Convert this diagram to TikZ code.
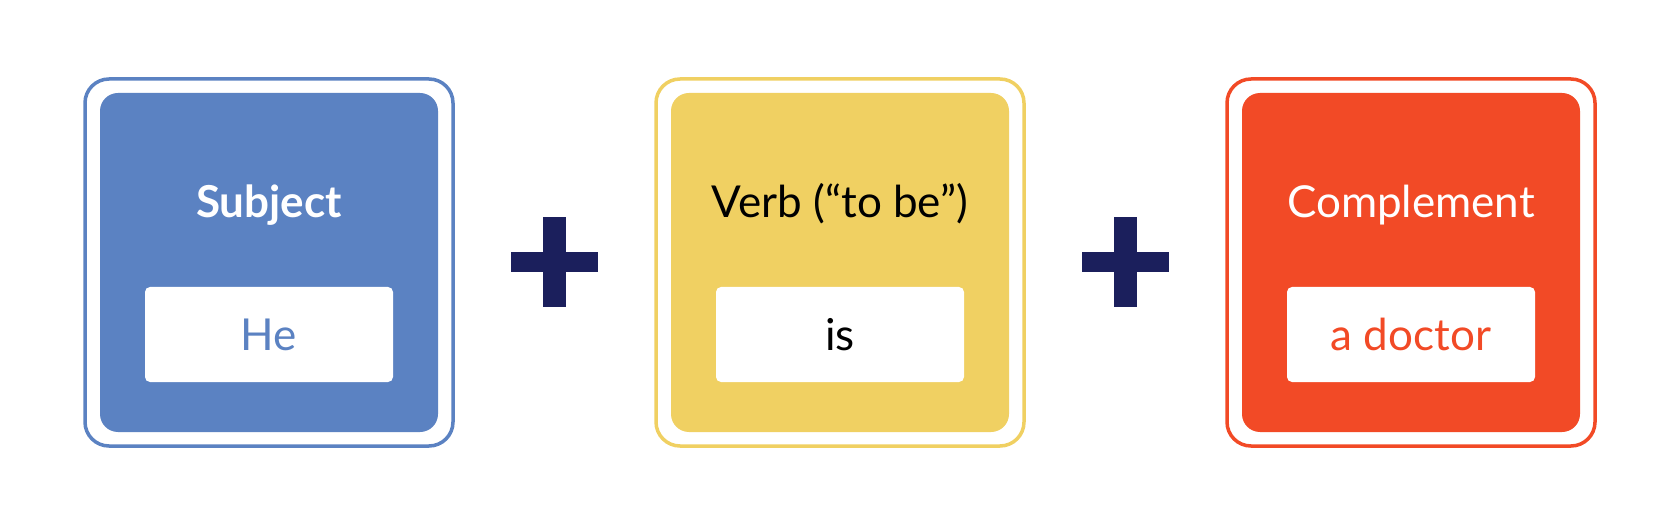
\documentclass[tikz,border=0pt]{standalone}
\usepackage{fontspec}
\setmainfont{Lato}
\definecolor{cblue}{HTML}{5B82C2}
\definecolor{cyellow}{HTML}{F0D062}
\definecolor{cred}{HTML}{F24A26}
\definecolor{cnavy}{HTML}{1B1F5C}
\begin{document}
\begin{tikzpicture}[x=1pt,y=-1pt,
  outerbox/.style={draw=#1, line width=3.5pt, rounded corners=24pt, minimum width=368pt, minimum height=367pt, inner sep=0pt, fill=white},
  innerbox/.style={fill=#1, rounded corners=18pt, minimum width=338pt, minimum height=339pt, inner sep=0pt},
  valbox/.style={fill=white, rounded corners=5pt, minimum width=248pt, minimum height=95pt, inner sep=0pt},
  title/.style={anchor=base, inner sep=0pt, font=\fontsize{44}{50}\selectfont, text=#1},
  value/.style={anchor=base, inner sep=0pt, font=\fontsize{44}{50}\selectfont, text=#1},
  plusbar/.style={fill=cnavy}
]
\useasboundingbox (0,0) rectangle (1680,526);
% Box 1
\node[outerbox=cblue] (o1) at (269,262.5) {};
\node[innerbox=cblue] (i1) at (269,262.5) {};
\node[valbox] (v1) at (269,334.5) {};
\node[title=white, font=\fontsize{44}{50}\selectfont\bfseries] (t1) at (269,218) {Subject};
\node[value=cblue] (w1) at (269,350) {He};
% Box 2
\node[outerbox=cyellow] (o2) at (840,262.5) {};
\node[innerbox=cyellow] (i2) at (840,262.5) {};
\node[valbox] (v2) at (840,334.5) {};
\node[title=black] (t2) at (840,218) {Verb (“to be”)};
\node[value=black] (w2) at (840,350) {is};
% Box 3
\node[outerbox=cred] (o3) at (1411,262.5) {};
\node[innerbox=cred] (i3) at (1411,262.5) {};
\node[valbox] (v3) at (1411,334.5) {};
\node[title=white] (t3) at (1411,218) {Complement};
\node[value=cred] (w3) at (1411,350) {a doctor};
% Plus signs
\fill[plusbar] (543,217) rectangle (566,307);
\fill[plusbar] (511,252) rectangle (598,272);
\fill[plusbar] (1114,217) rectangle (1137,307);
\fill[plusbar] (1082,252) rectangle (1169,272);
\end{tikzpicture}
\end{document}
